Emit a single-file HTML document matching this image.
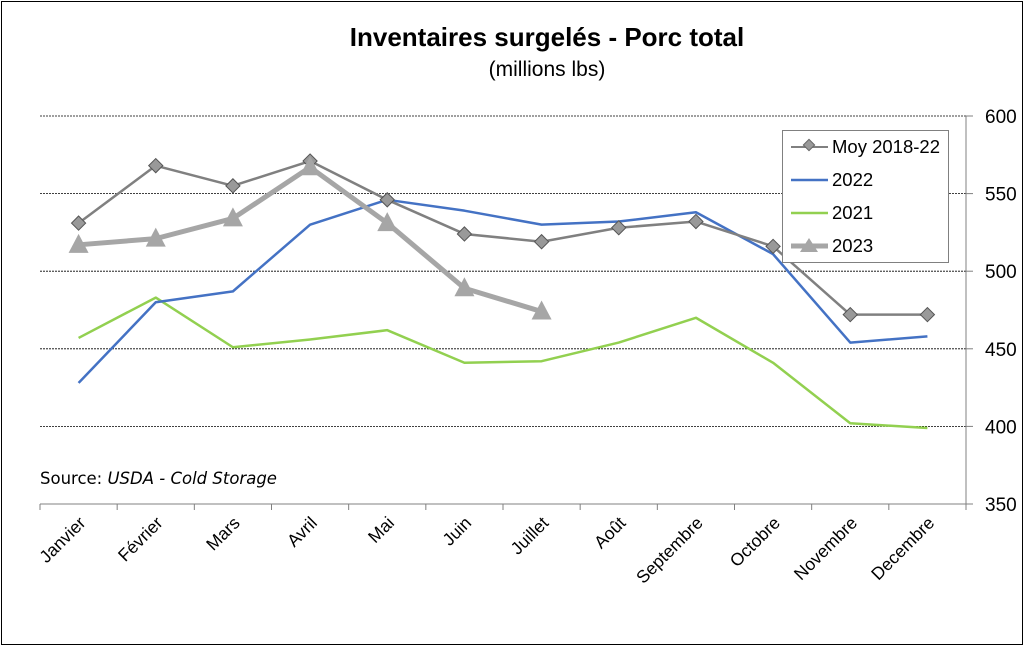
<!DOCTYPE html>
<html><head><meta charset="utf-8"><style>
body{margin:0;background:#fff}
svg{display:block;font-family:"Liberation Sans",sans-serif}
</style></head><body>
<svg id="c" width="1024" height="646" xmlns="http://www.w3.org/2000/svg">
<rect x="1.5" y="1.5" width="1021" height="643" fill="#fff" stroke="#000" stroke-width="1"/>
<text x="547" y="46" text-anchor="middle" font-size="26" font-weight="bold">Inventaires surgelés - Porc total</text>
<text x="547" y="76" text-anchor="middle" font-size="21">(millions lbs)</text>
<text x="40" y="484" font-size="16.5" font-family="DejaVu Sans, sans-serif">Source: <tspan font-style="italic">USDA - Cold Storage</tspan></text>
<g id="grid"></g><g id="axes"></g><g id="series"></g>
<g>
<rect x="782.5" y="130.5" width="166" height="132" fill="#fff" stroke="#808080"/>
<g><line x1="791" y1="147" x2="828" y2="147" stroke="#808080" stroke-width="2"/><rect x="805" y="141" width="8" height="8" transform="rotate(45 809 145)" fill="#999" stroke="#666"/><text x="832" y="153" font-size="18.5">Moy 2018-22</text></g>
<g><line x1="791" y1="180" x2="828" y2="180" stroke="#4472c4" stroke-width="2.5"/><text x="832" y="186" font-size="18.5">2022</text></g>
<g><line x1="791" y1="213" x2="828" y2="213" stroke="#92d050" stroke-width="2.5"/><text x="832" y="219" font-size="18.5">2021</text></g>
<g><line x1="791" y1="246" x2="828" y2="246" stroke="#a6a6a6" stroke-width="5"/><polygon points="809,238 818,252 800,252" fill="#a6a6a6"/><text x="832" y="252" font-size="18.5">2023</text></g>
</g>
</svg>
<script>
const months=["Janvier","Février","Mars","Avril","Mai","Juin","Juillet","Août","Septembre","Octobre","Novembre","Decembre"];
const moy=[531,568,555,571,546,524,519,528,532,516,472,472];
const y2022=[428,480,487,530,546,539,530,532,538,511,454,458];
const y2021=[457,483,451,456,462,441,442,454,470,441,402,399];
const y2023=[517,521,534,567,531,489,474];
const yTicks=[350,400,450,500,550,600];
const NS="http://www.w3.org/2000/svg";
const x0=40,x1=966,yTop=116,yBot=504,ymin=350,ymax=600;
const step=(x1-x0)/months.length;
const X=i=>x0+step*(i+0.5);
const Y=v=>yBot-(v-ymin)/(ymax-ymin)*(yBot-yTop);
function mk(t,a,p){const e=document.createElementNS(NS,t);for(const k in a)e.setAttribute(k,a[k]);p.appendChild(e);return e;}
const grid=document.getElementById('grid'),axes=document.getElementById('axes'),ser=document.getElementById('series');
yTicks.forEach(v=>{
 if(v>ymin){const l=mk('line',{x1:x0,x2:x1,y1:Y(v),y2:Y(v),stroke:'#000','stroke-width':0.8,'stroke-dasharray':'2,1'},grid);
 
 }
 mk('line',{x1:x1,x2:x1+7,y1:Y(v),y2:Y(v),stroke:'#808080'},axes);
 const t=mk('text',{x:985,y:Y(v)+7,'font-size':19},axes);t.textContent=v;
 
 
});
mk('line',{x1:x1,x2:x1,y1:yTop,y2:yBot,stroke:'#808080'},axes);
mk('line',{x1:x0,x2:x1,y1:yBot,y2:yBot,stroke:'#808080'},axes);
for(let i=0;i<=months.length;i++)mk('line',{x1:x0+step*i,x2:x0+step*i,y1:yBot,y2:yBot+6,stroke:'#808080'},axes);
months.forEach((m,i)=>{const t=mk('text',{x:X(i)+8,y:yBot+20,'font-size':17.5,'text-anchor':'end',transform:`rotate(-45 ${X(i)+8} ${yBot+20})`},axes);t.textContent=m;
 
 });
function line(d,col,w,name){const p=mk('polyline',{points:d.map((v,i)=>X(i)+','+Y(v)).join(' '),fill:'none',stroke:col,'stroke-width':w,'stroke-linejoin':'round'},ser);
 
 }
line(y2021,'#92d050',2.5,'line-2021');
line(y2022,'#4472c4',2.5,'line-2022');
line(moy,'#808080',2.5,'line-moy');
moy.forEach((v,i)=>{const r=mk('rect',{x:X(i)-5,y:Y(v)-5,width:10,height:10,transform:`rotate(45 ${X(i)} ${Y(v)})`,fill:'#999',stroke:'#555'},ser);
 
 });
line(y2023,'#a6a6a6',5,'line-2023');
y2023.forEach((v,i)=>{const x=X(i),y=Y(v);const p=mk('polygon',{points:`${x},${y-11} ${x+10},${y+8} ${x-10},${y+8}`,fill:'#a6a6a6'},ser);
 
 });
</script>
</body></html>
